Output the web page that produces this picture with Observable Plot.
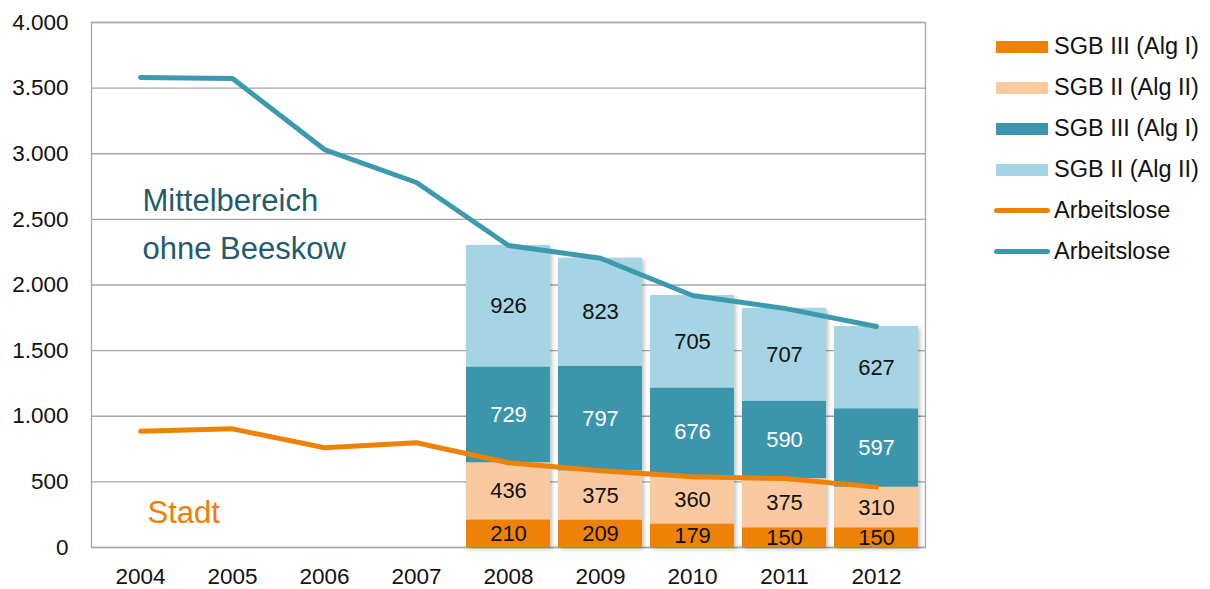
<!DOCTYPE html>
<html><head><meta charset="utf-8">
<script src="https://cdn.jsdelivr.net/npm/d3@7"></script>
<script src="https://cdn.jsdelivr.net/npm/@observablehq/plot@0.6"></script>
<style>
body{margin:0;background:#fff;font-family:"Liberation Sans",Arial,sans-serif;}
#wrap{position:relative;width:1210px;height:589px;overflow:hidden}
#legend{position:absolute;left:994px;top:26px;}
.row{display:flex;align-items:center;height:41px;font-size:23.5px;color:#111;white-space:nowrap}
.sw{width:52px;height:12px;margin-right:6px;margin-left:2px}
.ln{width:56px;height:5px;border-radius:3px;margin-right:4px}
</style></head><body><div id="wrap"><div id="chart"></div><div id="legend"></div></div>
<script>
// ---- data ----
const years = ["2004","2005","2006","2007","2008","2009","2010","2011","2012"];
const stadtArbeitslose = [886, 904, 760, 798, 646, 584, 539, 525, 460];
const mittelArbeitslose = [3581, 3573, 3032, 2781, 2301, 2204, 1920, 1822, 1684];
const barYears = ["2008","2009","2010","2011","2012"];
const stadtSGB3 = [210, 209, 179, 150, 150];
const stadtSGB2 = [436, 375, 360, 375, 310];
const mittelSGB3 = [729, 797, 676, 590, 597];
const mittelSGB2 = [926, 823, 705, 707, 627];
const seriesKeys = ["stadtSGB3", "stadtSGB2", "mittelSGB3", "mittelSGB2"];
const legendLabels = ["SGB III (Alg I)", "SGB II (Alg II)", "SGB III (Alg I)", "SGB II (Alg II)", "Arbeitslose", "Arbeitslose"];
const yTicks = [0, 500, 1000, 1500, 2000, 2500, 3000, 3500, 4000];

// ---- styles ----
const barColors = ["#EE8206", "#FBC9A0", "#3C96AB", "#A5D5E4"];
const orangeLine = "#EE8206";
const tealLine = "#3D9AAE";

const seriesValues = {stadtSGB3, stadtSGB2, mittelSGB3, mittelSGB2};
const barRows = barYears.flatMap((yr, i) => seriesKeys.map(k => ({year: yr, series: k, value: seriesValues[k][i]})));
const stadtRows = years.map((yr, i) => ({year: yr, value: stadtArbeitslose[i]}));
const mittelRows = years.map((yr, i) => ({year: yr, value: mittelArbeitslose[i]}));

const de = d3.formatLocale({decimal: ",", thousands: ".", grouping: [3], currency: ["", "€"]});
const fmt = de.format(",");

const chart = Plot.plot({
  width: 960,
  height: 589,
  marginLeft: 91,
  marginRight: 35,
  marginTop: 22,
  marginBottom: 42,
  style: {fontFamily: "Liberation Sans, Arial, sans-serif", background: "white"},
  x: {type: "band", domain: years, paddingInner: 0.09, paddingOuter: 0.045, label: null},
  y: {domain: [0, 4000], label: null},
  color: {domain: seriesKeys, range: barColors},
  marks: [
    Plot.gridY(yTicks, {stroke: "#A6A6A6", strokeOpacity: 1, strokeWidth: 1.3}),
    Plot.frame({stroke: "#A6A6A6", strokeWidth: 1.3}),
    Plot.axisY(yTicks, {tickSize: 0, tickPadding: 23, fontSize: 22.5, tickFormat: fmt, fill: "#111", label: null}),
    Plot.axisX({tickSize: 0, tickPadding: 21, fontSize: 22.5, fill: "#111", label: null}),
    Plot.barY(barRows, {x: "year", y: "value", fill: "series", z: "series"}),
    Plot.line(stadtRows, {x: "year", y: "value", stroke: orangeLine, strokeWidth: 5, strokeLinecap: "round", strokeLinejoin: "round"}),
    Plot.line(mittelRows, {x: "year", y: "value", stroke: tealLine, strokeWidth: 5, strokeLinecap: "round", strokeLinejoin: "round"}),
    Plot.text(barRows, Plot.stackY({x: "year", y: "value", z: "series",
      text: d => d.series === "mittelSGB3" ? "" : String(d.value), fill: "#111", fontSize: 22})),
    Plot.text(barRows, Plot.stackY({x: "year", y: "value", z: "series",
      text: d => d.series === "mittelSGB3" ? String(d.value) : "", fill: "white", fontSize: 22})),
    Plot.text(["Mittelbereich\nohne Beeskow"], {frameAnchor: "top-left", textAnchor: "start", lineAnchor: "top",
      dx: 51, dy: 154, fontSize: 31, lineHeight: 1.55, fill: "#245B6B"}),
    Plot.text(["Stadt"], {frameAnchor: "top-left", textAnchor: "start", lineAnchor: "top",
      dx: 56, dy: 478, fontSize: 31, fill: "#EE7E0A"})
  ]
});
document.getElementById("chart").appendChild(chart);
const barG = chart.querySelector('g[aria-label="bar"]');
if (barG) barG.style.filter = "drop-shadow(2px 2px 2px rgba(0,0,0,0.25))";

// legend
const legend = document.getElementById("legend");
const legendSwatches = [
  {type: "sw", color: barColors[0]}, {type: "sw", color: barColors[1]},
  {type: "sw", color: barColors[2]}, {type: "sw", color: barColors[3]},
  {type: "ln", color: orangeLine}, {type: "ln", color: tealLine}
];
legendLabels.forEach((lab, i) => {
  const row = document.createElement("div");
  row.className = "row";
  const s = document.createElement("div");
  s.className = legendSwatches[i].type;
  s.style.background = legendSwatches[i].color;
  const t = document.createElement("span");
  t.textContent = lab;
  row.appendChild(s); row.appendChild(t);
  legend.appendChild(row);
});
</script>
</body></html>
